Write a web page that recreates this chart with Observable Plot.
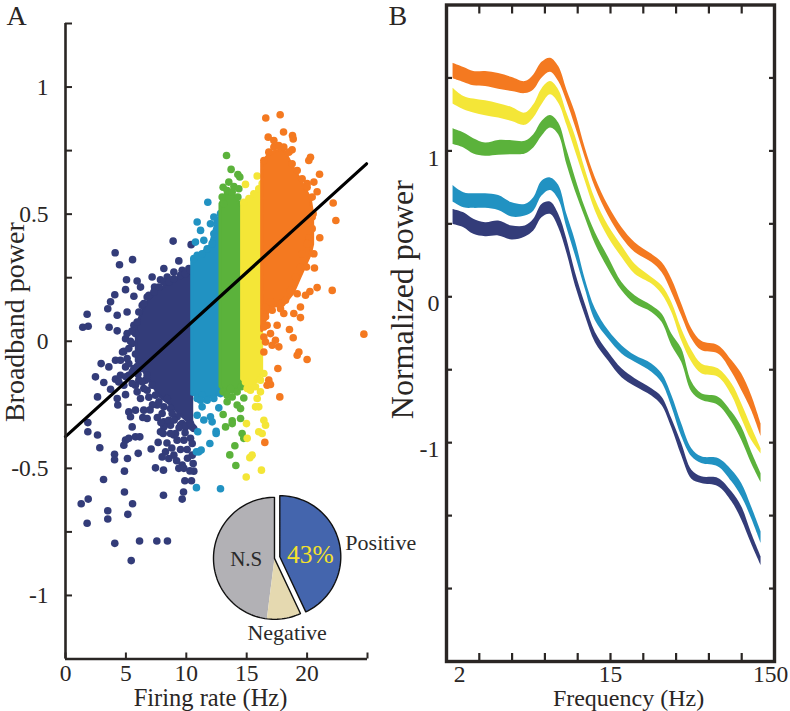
<!DOCTYPE html>
<html><head><meta charset="utf-8">
<script src="https://cdn.jsdelivr.net/npm/d3@7"></script>
<script src="https://cdn.jsdelivr.net/npm/@observablehq/plot@0.6"></script>
<style>
html,body{margin:0;padding:0;background:#fff}
#wrap{position:relative;width:790px;height:711px;overflow:hidden}
#wrap svg{position:absolute;top:0;background:transparent;max-width:none}
</style></head><body><div id="wrap"></div>
<script>
const FONT = "'Liberation Serif', serif";
const INK = "#2a2624";
const NAVY = "#333c79", BLUE = "#2192c2", GREEN = "#5bb23b", YELLOW = "#f4e637", ORANGE = "#f47920";

// Panel A: dense cores of each rate group [rate, top, bottom]
const navyCore = [[5.9,.06,-.08],[6.5,.13,-.12],[7.04,.17,-.16],[7.87,.205,-.22],[8.69,.23,-.25],[9.52,.25,-.29],[10.49,.27,-.33]];
const blueCore = [[10.49,.32,-.21],[11.18,.34,-.22],[12.0,.375,-.22],[12.42,.45,-.22],[12.83,.5,-.2]];
const greenCore = [[12.83,.54,-.18],[13.3,.58,-.2],[13.94,.575,-.2],[14.62,.53,-.17]];
const yellowCore = [[14.62,.54,-.15],[15.31,.56,-.18],[15.87,.59,-.16],[16.28,.615,-.13]];
const orangeCore = [[16.28,.70,.04],[16.97,.74,.135],[18.07,.755,.14],[18.9,.68,.19],[19.45,.635,.25],[20.3,.56,.34],[20.5,.5,.38]];

// Panel A: individually visible neurons [rate, power]
const navyDots = [[8.91,.394],[10.4,.38],[4.11,.348],[5.55,.321],[4.47,.301],[9.38,.316],[5.05,.242],[4.97,.203],[4.08,.183],[5.93,.237],[7.17,.253],[8.14,.286],[7.86,.242],[7.37,.213],[6.21,.213],[5.66,.177],[3.73,.155],[3.5,.128],[1.79,.106],[1.43,.055],[1.88,.059],[3.61,.055],[4.28,.102],[5.1,.115],[4.28,.041],[4.97,.01],[4.72,-.042],[5.66,.063],[6.35,.141],[6.76,.174],[8.42,.253],[8.97,.272],[10.21,.286],[9.66,.279],
[2.95,-.088],[3.59,-.101],[4.14,-.075],[2.48,-.14],[3.17,-.162],[4.14,-.149],[4.41,-.16],[3.73,-.189],[2.65,-.219],[4.28,-.225],[4.97,-.21],[4.33,-.251],[1.85,-.32],[1.85,-.356],[2.65,-.369],[2.84,-.419],[4.06,-.445],[4.06,-.466],[4.88,-.511],[5.13,-.461],[6.02,-.441],[3.15,-.544],[4.88,-.593],[1.88,-.621],[1.3,-.639],[3.5,-.667],[5.55,-.639],[5.16,-.681],[3.5,-.699],[1.79,-.716],[4.08,-.795],[6.13,-.786],[7.56,-.786],[8.44,-.786],[5.44,-.863],[8.11,-.606],[9.77,-.593],[9.66,-.621],[9.88,-.549],[10.43,-.549],[7.45,-.498],[8.11,-.507],[7.09,-.424],[7.67,-.398],[5.24,-.278],[5.79,-.271],[5.38,-.297],[5.52,-.337],[6.48,-.271],[6.76,-.304],[4.97,-.389],[4.83,-.409],[5.24,-.382],[5.79,-.376],[6.15,-.376],[8.09,-.363],[8.42,-.324],[8.69,-.33],[8.97,-.369],[9.24,-.389],[9.11,-.363],[9.8,-.389],[10.35,-.382],[10.49,-.402],[9.52,-.426],[10.07,-.426],[8.28,-.435],[8.97,-.448],[8.55,-.461],[8,-.455],[9.66,-.487],[9.38,-.5],[9.8,-.5],[10.57,-.481],[10.62,-.511],[10.49,-.448],[6.07,-.153],[5.66,-.107],[5.79,-.173],[5.93,-.199],[6.62,-.153],[6.76,-.193],[5.1,-.068],[5.52,-.121],[7.59,-.251],[8,-.284],[8.14,-.317],[8.55,-.311],[9.66,-.324],[10.07,-.33],[10.62,-.343],
[6.07,.115],[6.48,.148],[6.9,.181],[7.31,.194],[7.73,.213],[8.14,.233],[8.55,.233],[8.97,.246],[9.52,.259],[9.93,.266],[10.35,.279],[5.93,.076],[5.79,.03],[5.52,-.009],[5.24,-.029],
[4.97,-.101],[5.24,-.134],[5.52,-.166],[6.21,-.107],[6.76,-.134],[7.17,-.173],[6.48,-.186],[7.45,-.212],[7.73,-.238],[8.14,-.258],[8.69,-.265],[9.24,-.297],[8.83,-.284],[9.52,-.33],[9.93,-.337],[10.49,-.337],[8.14,-.337],[7.86,-.356],[8.69,-.363],[10.35,-.324],[8.42,-.225],[4.55,-.134],[4.83,-.173],[6.21,-.225],
[4.55,-.075],[5.24,-.088],[5.79,-.05],[5.38,0],[5.1,.03],[5.93,-.1],[4.83,-.04],[5.5,.04],[6,-.13],[5,-.14],[6.35,-.16],[6.9,-.22],[7.2,-.25],[7,-.27],[7.6,-.3],[7.9,-.32],[6.4,-.3],[9,-.31],[9.4,-.34],[9.9,-.36],[8.4,-.4],[10.1,-.46],[9.2,-.47],[10.3,-.51],[8.8,-.42]];
const blueDots = [[10.9,.469],[11.18,.436],[12,.462],[11.78,.547],[10.76,.39],[11.45,.397],[10.9,-.291],[11.31,-.258],[12.69,-.262],[12,-.297],[11.45,-.31],[12.14,-.317],[10.95,-.356],[12.47,-.363],[11.95,-.402],[11.04,-.435],[10.84,-.435],[11.23,-.428],[10.84,-.576],[12.83,-.58],[12.47,-.354],
[10.62,.325],[10.9,.338],[11.31,.344],[11.73,.364],[12.14,.384],[12.28,.423],[12.56,.469],[12.83,.502],[12.28,.489],[10.9,-.225],[11.31,-.212],[11.73,-.232],[12.28,-.225],[12.83,-.206],[11.18,-.232]];
const greenDots = [[13.33,.731],[13.71,.676],[14.27,.656],[14.43,.646],[13.52,.626],[13.05,.606],[13.94,.609],[14.35,.6],[13.38,-.238],[14.21,-.251],[14.49,-.265],[13.05,-.288],[13.8,-.313],[14.49,-.304],[13.25,-.337],[13.8,-.324],[14.62,-.363],[14.76,-.382],[14.02,-.411],[13.6,-.447],[14.1,-.489],[14.76,-.223],
[12.97,.567],[13.38,.593],[13.8,.587],[14.27,.567],[14.62,.541],[13.11,.541],[13.05,-.199],[13.38,-.212],[13.8,-.219],[14.21,-.199],[14.54,-.179],[13.66,-.186]];
const yellowDots = [[15.87,.65],[14.9,.617],[15.87,-.225],[16,-.258],[15.73,-.258],[15.04,-.186],[14.98,-.324],[16.42,-.311],[16.56,-.33],[16,-.356],[16.28,-.363],[15.04,-.382],[15.45,-.448],[15.26,-.458],[16.22,-.507],[14.96,-.534],[16.14,-.199],
[14.76,.547],[15.18,.561],[15.59,.58],[16,.6],[16.28,.62],[14.9,-.16],[15.31,-.193],[15.73,-.179],[16.14,-.153],[16.42,-.127]];
const orangeDots = [[16.58,.878],[17.77,.891],[18.05,.823],[18.79,.809],[16.78,.803],[17.25,.79],[18.85,.796],[18.76,.753],[20.28,.724],[20.14,.711],[21.03,.657],[20.83,.588],[22.16,.544],[22.38,.475],[21.05,.407],[22.08,.2],[20.83,.211],[20.23,.196],[20.61,.288],[19.95,.292],[20.56,.344],[20.14,.407],[20.42,.443],[24.7,.028],[19.32,-.042],[18.85,.014],[18.54,.046],[19.45,.093],[18.9,.109],[19.45,.135],[19.18,.187],[17.52,.063],[16.97,.03],[17.38,.004],[16.56,-.003],[17.11,-.016],[17.66,-.022],[16.56,.096],[18.07,.109],[16.42,-.042],[16.69,.063],[17.8,.148],[19.87,.181],[20,.62],[20.56,.626],[20,-.072],[17.58,-.107],[19.18,-.055],[16.83,-.153],[16.69,-.173],[16.97,-.17],[17.74,-.219],[16.5,-.398],
[16.42,.711],[16.83,.744],[17.25,.764],[17.66,.77],[18.07,.764],[18.49,.744],[18.76,.698],[19.18,.672],[19.59,.639],[20,.606],[20.42,.567],[20.5,.502],[20.42,.489],[20,.384],[19.59,.344],[19.45,.292],[19.04,.253],[18.63,.2],[18.21,.161],[17.8,.128],[17.11,.122],[16.56,.135],[16.97,.155],[16.42,.056],[16.42,.017]];

const fitLine = [[0,-.375],[24.92,.698]];
const rateTicks = [0,5,10,15,20,25];
const rateLabels = [0,5,10,15,20];
const powerTicks = [-1.25,-1,-.75,-.5,-.25,0,.25,.5,.75,1,1.25];
const powerLabels = [-1,-.5,0,.5,1];

// Pie inset
const pieNames = ["Positive","Negative","N.S"];
const pieValues = [43,9,48];
const pieFills = ["#4465ad","#e5d9b0","#b2b1b5"];
const pieCentre = [17.30,-.854];
const pieRadius = [5.05,.24];
const piePull = [.44,.0065];
const pieTexts = [
  {t:"N.S",x:14.96,y:-.857,c:"#2a2a2a",s:21},
  {t:"43%",x:20.28,y:-.841,c:"#f4e22b",s:25.5},
  {t:"Positive",x:26.1,y:-.794,c:"#2a2a2a",s:22},
  {t:"Negative",x:18.35,y:-1.146,c:"#2a2a2a",s:22}
];

// Panel B: position along the log-frequency axis (in tick divisions)
const freqPos = [.20,.53,.83,1.19,1.59,2.0,2.40,2.66,2.91,3.17,3.42,3.67,3.93,4.23,4.54,4.94,5.35,5.75,6.26,6.57,6.87,7.17,7.48,7.78,8.29,8.70,9.0,9.30,9.59];
const orangeTop = [1.601,1.571,1.544,1.544,1.530,1.503,1.475,1.521,1.607,1.635,1.578,1.418,1.259,1.020,.815,.622,.474,.371,.291,.235,.121,-.050,-.221,-.305,-.335,-.437,-.528,-.676,-.870];
const orangeBot = [1.494,1.469,1.446,1.441,1.423,1.407,1.393,1.418,1.498,1.539,1.475,1.339,1.168,.952,.747,.553,.405,.303,.235,.166,.030,-.130,-.289,-.369,-.392,-.517,-.642,-.779,-.956];
const yellowTop = [1.430,1.373,1.355,1.343,1.323,1.298,1.259,1.316,1.425,1.475,1.418,1.259,1.100,.872,.667,.485,.348,.223,.132,.075,-.039,-.221,-.369,-.460,-.494,-.597,-.733,-.893,-1.041];
const yellowBot = [1.321,1.282,1.259,1.241,1.225,1.202,1.175,1.225,1.316,1.384,1.327,1.175,.997,.792,.587,.405,.269,.155,.087,.018,-.107,-.301,-.449,-.528,-.551,-.676,-.836,-.984,-1.077];
const greenTop = [1.152,1.123,1.084,1.054,1.072,1.070,1.066,1.111,1.202,1.243,1.191,1.009,.815,.610,.439,.269,.098,.007,-.061,-.118,-.255,-.357,-.585,-.665,-.688,-.790,-.893,-1.063,-1.211];
const greenBot = [1.043,1.020,.979,.963,.970,.974,.979,1.020,1.100,1.157,1.111,.906,.724,.542,.360,.189,.041,-.050,-.107,-.175,-.335,-.449,-.653,-.710,-.745,-.858,-.984,-1.143,-1.273];
const blueTop = [.763,.713,.706,.706,.694,.644,.633,.679,.792,.815,.765,.565,.383,.121,-.084,-.232,-.335,-.403,-.460,-.528,-.676,-.870,-1.041,-1.097,-1.109,-1.189,-1.280,-1.439,-1.610];
const blueBot = [.649,.610,.606,.606,.592,.546,.553,.587,.690,.729,.667,.474,.283,.053,-.165,-.290,-.392,-.449,-.517,-.590,-.755,-.958,-1.097,-1.143,-1.166,-1.268,-1.371,-1.519,-1.689];
const navyTop = [.599,.576,.531,.508,.519,.485,.485,.531,.633,.649,.565,.394,.166,-.050,-.244,-.380,-.494,-.562,-.631,-.688,-.836,-1.006,-1.189,-1.234,-1.245,-1.337,-1.439,-1.621,-1.781];
const navyBot = [.496,.474,.428,.412,.417,.389,.410,.451,.542,.565,.474,.300,.076,-.130,-.315,-.440,-.555,-.615,-.680,-.745,-.900,-1.090,-1.250,-1.280,-1.302,-1.405,-1.530,-1.695,-1.842];

const freqTicks = [1,2,3,4,5,6,7,8,9];
const freqLabelPos = [.4,5,9.88];
const freqLabels = ["2","15","150"];
const normTicks = [-2,-1.5,-1,-.5,0,.5,1,1.5];
const normLabels = [-1,0,1];

function core(rows, color){
  return Plot.areaY(rows,{x:d=>d[0],y1:d=>d[2],y2:d=>d[1],fill:color,stroke:color,strokeWidth:3,strokeLinejoin:"round"});
}
function dots(rows, color){
  return Plot.dot(rows,{x:d=>d[0],y:d=>d[1],r:3.8,fill:color,stroke:null});
}

// Pie slices as closed outlines, in data units
const arcs = d3.pie().sort(null)(pieValues);
function wedge(a0,a1,cx,cy){
  const n = Math.max(2,Math.ceil((a1-a0)/0.04));
  const pts = [[cx,cy]];
  for(let i=0;i<=n;i++){
    const a = a0+(a1-a0)*i/n;
    pts.push([cx+pieRadius[0]*Math.sin(a),cy+pieRadius[1]*Math.cos(a)]);
  }
  pts.push([cx,cy]);
  return pts;
}
const [pcx,pcy] = pieCentre;
const bluePts = wedge(arcs[0].startAngle,arcs[0].endAngle,pcx+piePull[0],pcy+piePull[1]);
const tanPts = wedge(arcs[1].startAngle,arcs[1].endAngle,pcx,pcy);
const greyPts = wedge(arcs[2].startAngle,arcs[2].endAngle,pcx,pcy);
const restPts = wedge(arcs[1].startAngle,arcs[2].endAngle,pcx,pcy);
const poly = (pts,o)=>Plot.line(pts,{x:d=>d[0],y:d=>d[1],curve:"linear",...o});

const panelA = Plot.plot({
  width:430,height:711,marginLeft:65,marginRight:63,marginTop:23,marginBottom:52.5,
  style:{fontFamily:FONT,fontSize:"23.5px",color:INK,background:"transparent"},
  x:{domain:[0,25],label:null},
  y:{domain:[-1.25,1.25],label:null},
  marks:[
    core(navyCore,NAVY),dots(navyDots,NAVY),
    core(blueCore,BLUE),dots(blueDots,BLUE),
    core(greenCore,GREEN),dots(greenDots,GREEN),
    core(yellowCore,YELLOW),dots(yellowDots,YELLOW),
    core(orangeCore,ORANGE),dots(orangeDots,ORANGE),
    Plot.line(fitLine,{x:d=>d[0],y:d=>d[1],stroke:"#000",strokeWidth:3.2}),
    Plot.ruleX([0],{stroke:INK,strokeWidth:2.6}),
    Plot.ruleY([-1.25],{stroke:INK,strokeWidth:2.6}),
    Plot.axisY({ticks:powerTicks,tickSize:-7,tickPadding:24,stroke:INK,strokeWidth:2,tickFormat:d=>powerLabels.includes(d)?String(d):"",label:null}),
    Plot.axisX({ticks:rateTicks,tickSize:-6,tickPadding:11,stroke:INK,strokeWidth:2,tickFormat:d=>rateLabels.includes(d)?String(d):"",label:null}),
    poly(greyPts,{fill:pieFills[2]}),
    poly(tanPts,{fill:pieFills[1]}),
    poly(restPts,{stroke:"#111",strokeWidth:1.4}),
    poly(bluePts,{fill:pieFills[0],stroke:"#111",strokeWidth:1.4}),
    Plot.text(pieTexts,{x:"x",y:"y",text:"t",fill:"c",fontSize:"s"}),
    Plot.text(["Firing rate (Hz)"],{frameAnchor:"bottom-left",dx:145,dy:39,lineAnchor:"middle",fontSize:24.5,textAnchor:"middle",fill:INK}),
    Plot.text(["Broadband power"],{y:[.075],frameAnchor:"left",dx:-50,rotate:-90,fontSize:28,textAnchor:"middle",fill:INK}),
    Plot.text(["A"],{frameAnchor:"top-left",dx:-59,dy:-18,fontSize:28,lineAnchor:"top",fill:INK})
  ]
});
panelA.style.left="0px";

function ribbon(top,bot,color){
  return Plot.areaY(freqPos,{x:d=>d,y1:(d,i)=>bot[i],y2:(d,i)=>top[i],fill:color,curve:"catmull-rom"});
}
const panelB = Plot.plot({
  width:405,height:711,marginLeft:61,marginRight:16,marginTop:4.5,marginBottom:50,
  style:{fontFamily:FONT,fontSize:"24px",color:INK,background:"transparent"},
  x:{domain:[0,10],label:null},
  y:{domain:[-2.5,2],label:null},
  marks:[
    ribbon(navyTop,navyBot,NAVY),
    ribbon(blueTop,blueBot,BLUE),
    ribbon(greenTop,greenBot,GREEN),
    ribbon(yellowTop,yellowBot,YELLOW),
    ribbon(orangeTop,orangeBot,ORANGE),
    Plot.frame({stroke:INK,strokeWidth:3.4}),
    Plot.axisY({anchor:"left",ticks:normTicks,tickSize:-6,stroke:INK,strokeWidth:2.2,tickFormat:()=>"",label:null}),
    Plot.axisY({anchor:"right",ticks:normTicks,tickSize:-6,stroke:INK,strokeWidth:2.2,tickFormat:()=>"",label:null}),
    Plot.axisX({anchor:"bottom",ticks:freqTicks,tickSize:-8,stroke:INK,strokeWidth:2.2,tickFormat:()=>"",label:null}),
    Plot.axisX({anchor:"top",ticks:freqTicks,tickSize:-8,stroke:INK,strokeWidth:2.2,tickFormat:()=>"",label:null}),
    Plot.text(normLabels,{y:d=>d,text:d=>String(d),frameAnchor:"left",dx:-7,dy:7,textAnchor:"end",fontSize:24,fill:INK}),
    Plot.text(freqLabelPos,{x:d=>d,text:(d,i)=>freqLabels[i],frameAnchor:"bottom",lineAnchor:"middle",dy:13,fontSize:23.5,fill:INK}),
    Plot.text(["Frequency (Hz)"],{frameAnchor:"bottom-left",dx:182,dy:37,lineAnchor:"middle",fontSize:24,textAnchor:"middle",fill:INK}),
    Plot.text(["Normalized power"],{y:[-.02],frameAnchor:"left",dx:-44,rotate:-90,fontSize:32,textAnchor:"middle",fill:INK}),
    Plot.text(["B"],{frameAnchor:"top-left",dx:-58,dy:.5,fontSize:28,lineAnchor:"top",fill:INK})
  ]
});
panelB.style.left="385px";
document.getElementById("wrap").append(panelB,panelA);
</script></body></html>
